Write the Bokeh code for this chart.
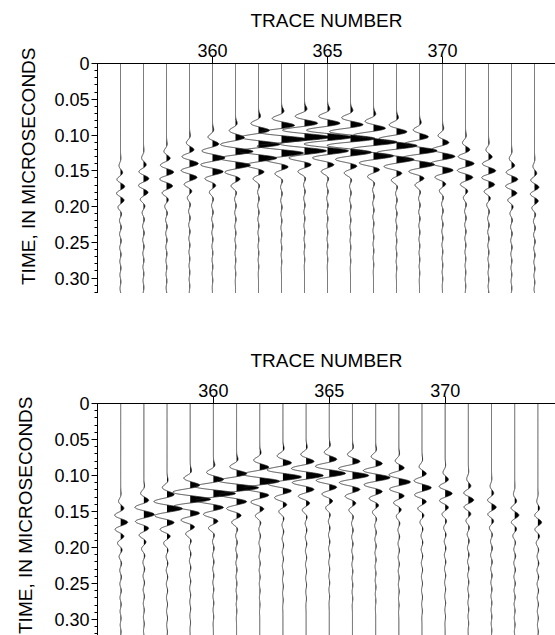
import numpy as np
from bokeh.plotting import figure
from bokeh.layouts import column
from bokeh.models import Range1d, LinearAxis, FixedTicker, CustomJSTickFormatter, Title
from bokeh.embed import file_html
from bokeh.resources import INLINE

# ---------------- data ----------------
TRACES = [356, 357, 358, 359, 360, 361, 362, 363, 364, 365,
          366, 367, 368, 369, 370, 371, 372, 373, 374]
X_TICKS = [360, 365, 370]
Y_TICKS = [0.0, 0.05, 0.10, 0.15, 0.20, 0.25, 0.30]
Y_TICK_LABELS = ["0", "0.05", "0.10", "0.15", "0.20", "0.25", "0.30"]
Y_MINOR_TICKS = [0.00, 0.01, 0.02, 0.03, 0.04, 0.05, 0.06, 0.07, 0.08, 0.09,
                 0.10, 0.11, 0.12, 0.13, 0.14, 0.15, 0.16, 0.17, 0.18, 0.19,
                 0.20, 0.21, 0.22, 0.23, 0.24, 0.25, 0.26, 0.27, 0.28, 0.29,
                 0.30, 0.31, 0.32]
X_LABEL = "TRACE NUMBER"
Y_LABEL = "TIME, IN MICROSECONDS"

# time of the strongest (filled) lobe on each trace, and its amplitude in trace spacings
TOP_TIMES = [0.172, 0.161, 0.152, 0.140, 0.132, 0.123, 0.113, 0.106, 0.103, 0.103,
             0.105, 0.110, 0.115, 0.122, 0.130, 0.140, 0.150, 0.162, 0.173]
TOP_AMPS = [0.18, 0.23, 0.31, 0.38, 0.54, 0.76, 0.93, 1.12, 1.12, 1.07,
            1.07, 1.02, 0.89, 0.76, 0.54, 0.37, 0.31, 0.27, 0.19]
BOTTOM_TIMES = [0.165, 0.154, 0.146, 0.133, 0.125, 0.117, 0.108, 0.102, 0.100, 0.097,
                0.100, 0.103, 0.109, 0.117, 0.125, 0.134, 0.144, 0.155, 0.165]
BOTTOM_AMPS = [0.30, 0.45, 0.66, 0.88, 0.95, 0.95, 0.85, 0.80, 0.74, 0.70,
               0.70, 0.62, 0.50, 0.40, 0.30, 0.23, 0.20, 0.18, 0.16]

# wavelet: relative size of successive half-cycles around the strongest lobe
HALF_PERIOD = 0.0095
LOBE_OFFSETS = [-4, -3, -2, -1, 0, 1, 2, 3, 4, 5]
TOP_LOBES = [0.08, -0.35, 0.50, -0.85, 1.00, -0.95, 0.85, -0.60, 0.25, -0.25]
BOTTOM_LOBES = [0.05, -0.30, 0.45, -0.85, 1.00, -0.80, 0.45, -0.45, 0.20, -0.22]
# faint ringing after the wavelet (absolute, trace spacings)
TAIL = [0.04, -0.04, 0.035, -0.035, 0.03, -0.03, 0.025, -0.025, 0.02, -0.02,
        0.02, -0.015, 0.015, -0.01]

LABEL_FONT = "Liberation Sans"
T = np.linspace(0.0, 0.335, 2681)
SIG = 0.46 * HALF_PERIOD
N_HALF = len(LOBE_OFFSETS) + len(TAIL)
OFFS = np.arange(N_HALF) + LOBE_OFFSETS[0]
# overlap matrix so each half-cycle peaks at exactly its read amplitude
_D = (OFFS[:, None] - OFFS[None, :]) * HALF_PERIOD
OVERLAP = np.exp(-0.5 * (_D / SIG) ** 2)


def wiggle(t0, amp, lobes):
    targets = np.array([amp * w for w in lobes] + list(TAIL))
    coef = np.linalg.solve(OVERLAP, targets)
    s = np.zeros_like(T)
    for k, c in zip(OFFS, coef):
        s += c * np.exp(-0.5 * ((T - t0 - k * HALF_PERIOD) / SIG) ** 2)
    return s


def make_panel(times, amps, lobes, height, left, top, x_end, y_end,
               ylab_offset, ylab_standoff, bottom_line):
    p = figure(width=555, height=height, output_backend="svg",
               toolbar_location=None, x_axis_location="above",
               x_range=Range1d(355, x_end), y_range=Range1d(y_end, 0),
               min_border_left=left, min_border_top=top,
               min_border_right=0, min_border_bottom=0)
    p.grid.visible = False
    p.outline_line_color = None
    p.background_fill_color = "white"
    p.border_fill_color = "white"

    for tr, t0, a in zip(TRACES, times, amps):
        s = wiggle(t0, a, lobes)
        p.harea(y=T, x1=np.full_like(T, tr), x2=tr + np.clip(s, 0, None),
                fill_color="black")
        p.line(x=tr + s, y=T, line_color="#222222", line_width=0.8)

    xa = p.xaxis[0]
    xa.ticker = FixedTicker(ticks=X_TICKS)
    xa.axis_label = X_LABEL
    xa.axis_label_text_font = LABEL_FONT
    xa.axis_label_text_font_size = "19px"
    xa.axis_label_text_font_style = "normal"
    xa.axis_label_text_color = "black"
    xa.axis_label_standoff = 10
    xa.major_label_text_font = LABEL_FONT
    xa.major_label_text_font_size = "18px"
    xa.major_label_text_color = "black"
    xa.major_label_standoff = 0
    xa.major_tick_in = 0
    xa.major_tick_out = 7
    xa.minor_tick_in = 0
    xa.minor_tick_out = 0
    xa.axis_line_color = "black"
    xa.major_tick_line_color = "black"

    ya = p.yaxis[0]
    ya.ticker = FixedTicker(ticks=Y_TICKS, minor_ticks=Y_MINOR_TICKS)
    ya.formatter = CustomJSTickFormatter(
        args=dict(tick_vals=Y_TICKS, tick_texts=Y_TICK_LABELS),
        code="""
        for (let i = 0; i < tick_vals.length; i++) {
            if (Math.abs(tick_vals[i] - tick) < 1e-9) { return tick_texts[i]; }
        }
        return "";
        """)
    ya.major_label_text_font = LABEL_FONT
    ya.major_label_text_font_size = "18px"
    ya.major_label_text_color = "black"
    ya.major_label_standoff = 2
    ya.major_tick_in = 0
    ya.major_tick_out = 6
    ya.minor_tick_in = 0
    ya.minor_tick_out = 3
    ya.axis_line_color = "black"
    ya.major_tick_line_color = "black"
    ya.minor_tick_line_color = "black"

    ytitle = Title(text=Y_LABEL, align="right", offset=ylab_offset,
                   vertical_align="top",
                   text_font=LABEL_FONT, text_font_size="19px",
                   text_font_style="normal", text_color="black",
                   standoff=ylab_standoff)
    p.add_layout(ytitle, "left")

    if bottom_line:
        bax = LinearAxis(ticker=FixedTicker(ticks=[]), major_tick_in=0,
                         major_tick_out=0, minor_tick_in=0, minor_tick_out=0,
                         major_label_standoff=0,
                         major_label_text_font_size="0px",
                         axis_line_color="black")
        p.add_layout(bax, "below")
    return p


top = make_panel(TOP_TIMES, TOP_AMPS, TOP_LOBES, height=293, left=97, top=63,
                 x_end=355 + 458 / 23.0, y_end=229 / 712.0,
                 ylab_offset=-16, ylab_standoff=21, bottom_line=True)
bottom = make_panel(BOTTOM_TIMES, BOTTOM_AMPS, BOTTOM_LOBES, height=342, left=94,
                    top=110, x_end=355 + 461 / 23.33, y_end=232 / 720.0,
                    ylab_offset=-7, ylab_standoff=28, bottom_line=False)

layout = column(top, bottom, spacing=0)
open("out.html", "w").write(file_html(layout, INLINE))
